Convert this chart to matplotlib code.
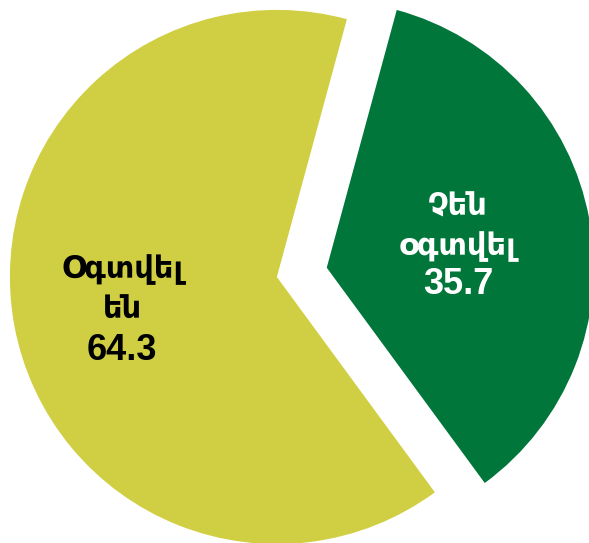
import matplotlib
matplotlib.use("Agg")
import matplotlib.pyplot as plt

# Տվյալներ
labels = ["Օգտվել\nեն", "Չեն\nօգտվել"]
values = [64.3, 35.7]
colors = ["#D0CF43", "#00763A"]
text_colors = ["black", "white"]
explode = [0, 0.19]

fig = plt.figure(figsize=(5.89, 5.43), dpi=100)
ax = fig.add_axes([0, 0, 1, 1])

wedges, _ = ax.pie(values, colors=colors, explode=explode, startangle=74.8,
                   counterclock=True, radius=1)

# Պիտակներ: անուն (x, y) և թիվ (y)
name_pos = [(-0.58, -0.045), (0.678, 0.185)]
num_y = [-0.275, -0.03]
for lab, val, (x, y), ny, tc in zip(labels, values, name_pos, num_y, text_colors):
    ax.text(x, y, lab, ha="center", va="center", fontsize=22,
            fontweight="bold", color=tc, linespacing=1.4,
            family=["DejaVu Sans"])
    ax.text(x, ny, f"{val:.1f}", ha="center", va="center", fontsize=26,
            fontweight="bold", color=tc, family=["Liberation Sans", "DejaVu Sans"])

ax.set_xlim(-1.037, 1.169)
ax.set_ylim(-0.996, 1.037)
ax.set_aspect("equal", adjustable="datalim")
ax.axis("off")

fig.savefig("out.png", dpi=100)
